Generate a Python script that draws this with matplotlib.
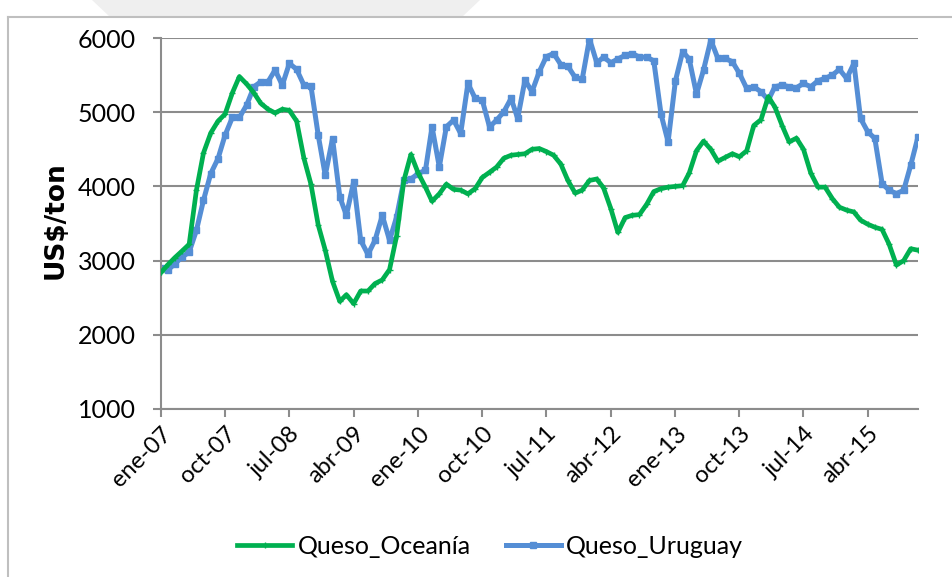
import matplotlib.pyplot as plt
import numpy as np
from matplotlib.lines import Line2D
from matplotlib.patches import Polygon

# monthly series, ene-07 .. nov-15
months = np.arange('2007-01', '2015-12', dtype='datetime64[M]')

oceania = [2840, 2950, 3040, 3130, 3220, 3950, 4450, 4720, 4880, 4975,
           5260, 5480, 5380, 5260, 5120, 5040, 4990, 5040, 5025, 4880,
           4380, 4030, 3480, 3140, 2720, 2450, 2540, 2420, 2590, 2590,
           2690, 2740, 2880, 3330, 4080, 4430, 4180, 3990, 3800, 3900,
           4030, 3960, 3950, 3900, 3970, 4120, 4190, 4260, 4380, 4420,
           4430, 4440, 4500, 4510, 4470, 4420, 4300, 4080, 3910, 3950,
           4080, 4100, 3980, 3700, 3380, 3580, 3610, 3620, 3760, 3930,
           3970, 3990, 4000, 4010, 4180, 4480, 4610, 4500, 4340, 4390,
           4440, 4400, 4480, 4820, 4900, 5210, 5070, 4820, 4600, 4650,
           4500, 4180, 3990, 3990, 3835, 3720, 3680, 3655, 3545, 3490,
           3450, 3420, 3220, 2940, 3000, 3160, 3140]

uruguay = [2904, 2877, 2958, 3048, 3115, 3408, 3813, 4173, 4375, 4690,
           4929, 4929, 5096, 5343, 5410, 5410, 5568, 5365, 5658, 5577,
           5365, 5352, 4690, 4150, 4645, 3858, 3610, 4060, 3273, 3084,
           3273, 3610, 3273, 3588, 4083, 4100, 4173, 4218, 4803, 4263,
           4803, 4893, 4713, 5388, 5186, 5163, 4803, 4893, 5006, 5186,
           4916, 5433, 5276, 5546, 5748, 5791, 5642, 5618, 5469, 5444,
           5990, 5667, 5742, 5667, 5717, 5767, 5791, 5742, 5742, 5692,
           4972, 4600, 5419, 5816, 5717, 5245, 5568, 5973, 5726, 5726,
           5680, 5523, 5320, 5343, 5276, 5163, 5343, 5365, 5343, 5330,
           5388, 5343, 5424, 5455, 5500, 5577, 5455, 5658, 4916, 4736,
           4646, 4038, 3948, 3903, 3948, 4286, 4668]

tick_labels = ['ene-07', 'oct-07', 'jul-08', 'abr-09', 'ene-10', 'oct-10',
               'jul-11', 'abr-12', 'ene-13', 'oct-13', 'jul-14', 'abr-15']

plt.rcParams['font.family'] = ['Lato', 'DejaVu Sans']

W, H = 952, 577
fig = plt.figure(figsize=(W / 100, H / 100), dpi=100)

# light decoration and frame like the slide
fig.add_artist(Polygon([(92 / W, 1), (480 / W, 1), (462 / W, 1 - 17 / H), (110 / W, 1 - 17 / H)],
                       closed=True, transform=fig.transFigure, facecolor='#efefef', edgecolor='none'))
fig.add_artist(Line2D([8 / W, 8 / W], [0, 1 - 17 / H], transform=fig.transFigure, color='#bfbfbf', lw=1.5))
fig.add_artist(Line2D([8 / W, 1], [1 - 17 / H, 1 - 17 / H], transform=fig.transFigure, color='#bfbfbf', lw=1.5))

ax = fig.add_axes([161 / W, 1 - 409 / H, (918 - 161) / W, (409 - 38) / H])

x = months.astype('datetime64[D]')
ax.plot(x, oceania, color='#00B050', lw=3.4, marker='+', markersize=4, mew=1,
        label='Queso_Oceanía', zorder=3)
ax.plot(x, uruguay, color='#558ED5', lw=3.6, marker='s', markersize=4.5,
        label='Queso_Uruguay', zorder=2)

ax.set_ylim(1000, 6000)
ax.set_yticks(np.arange(1000, 6001, 1000))
ax.set_xlim(x[0], x[-1])
ax.set_xticks(x[::9])
ax.set_xticklabels(tick_labels, rotation=45, ha='right', va='top', rotation_mode='anchor')

ax.grid(axis='y', color='#8c8c8c', lw=1.5)
ax.set_axisbelow(True)
for s in ['top', 'right']:
    ax.spines[s].set_visible(False)
for s in ['left', 'bottom']:
    ax.spines[s].set_color('#8c8c8c')
    ax.spines[s].set_linewidth(1.5)
ax.tick_params(axis='both', colors='#8c8c8c', length=6, width=1.5, labelcolor='black')
ax.tick_params(axis='y', labelsize=18, pad=12)
ax.tick_params(axis='x', labelsize=17, pad=4)

ax.set_ylabel('US$/ton', fontsize=19, fontweight='bold', family='DejaVu Sans')
ax.yaxis.set_label_coords(-0.122, 0.51)

fig.legend(loc='center', bbox_to_anchor=(490 / W, 1 - 546 / H), ncol=2, frameon=False,
           fontsize=18, handlelength=2.2, handletextpad=0.2, columnspacing=1.4)

fig.savefig('out.png', dpi=100)
